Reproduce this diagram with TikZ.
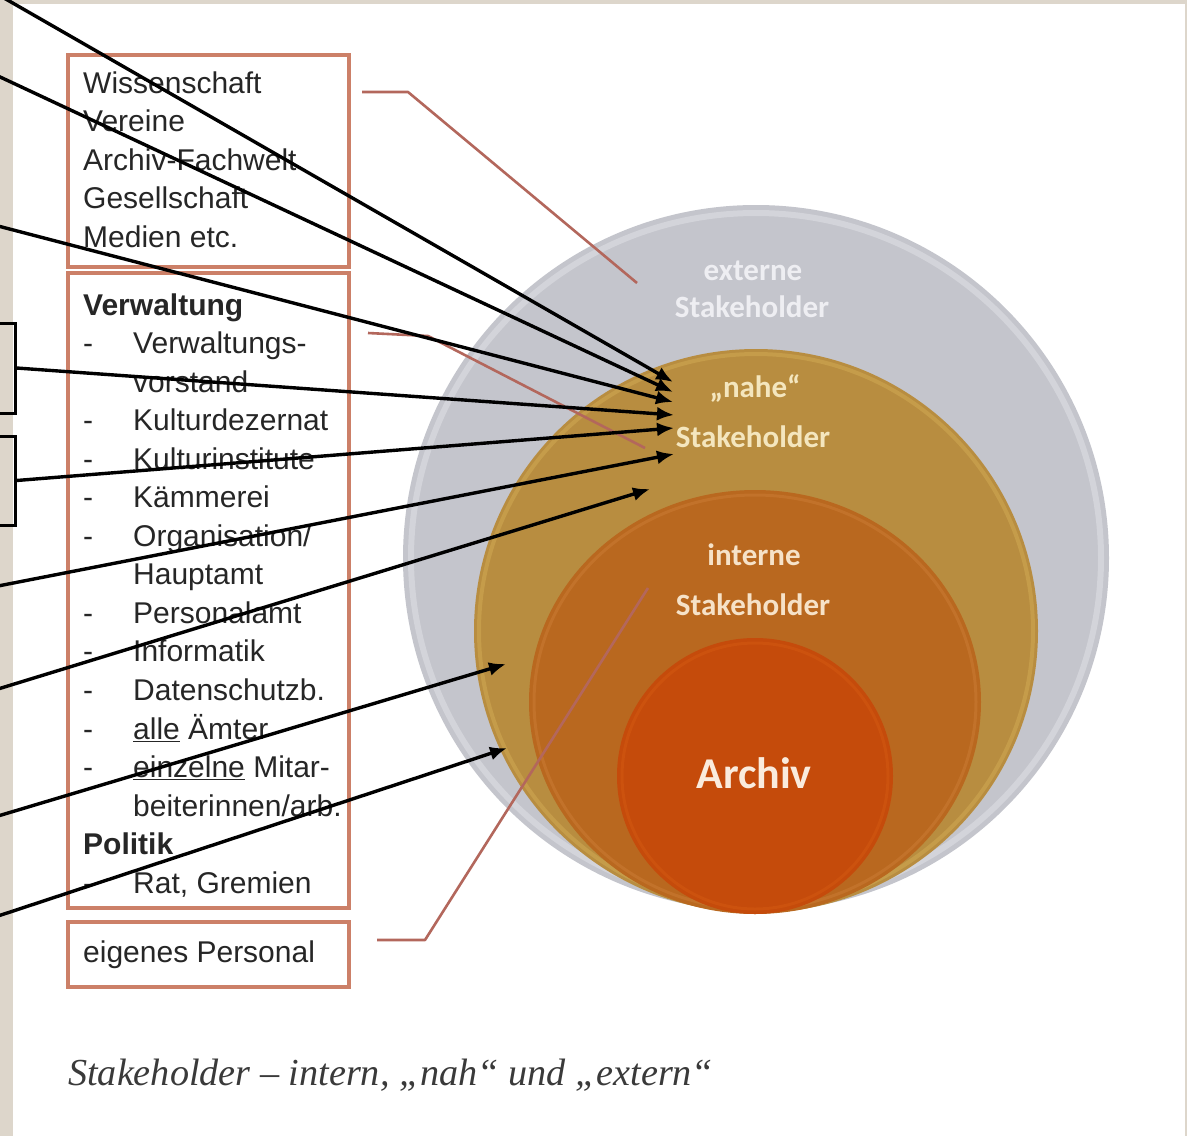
\documentclass[tikz,border=0pt]{standalone}
\usepackage{fontspec}
\usepackage{graphicx}
\setmainfont{Liberation Sans}
\newfontfamily\circfont{Carlito}
\newfontfamily\capfont{Liberation Serif}
\usetikzlibrary{arrows.meta}
\definecolor{margin}{HTML}{DDD6CB}
\definecolor{extgray}{HTML}{C4C5CC}
\definecolor{extrim}{HTML}{D3D4DA}
\definecolor{nahegold}{HTML}{B88D40}
\definecolor{naherim}{HTML}{C59C4A}
\definecolor{intorange}{HTML}{B9681F}
\definecolor{introm}{HTML}{C2722A}
\definecolor{archred}{HTML}{C54B0B}
\definecolor{archrim}{HTML}{CC520E}
\definecolor{boxline}{HTML}{CC8068}
\definecolor{conline}{HTML}{B3675C}
\definecolor{boxtext}{HTML}{262626}
\definecolor{exttext}{HTML}{EEEEF2}
\definecolor{nahetext}{HTML}{F4E6BE}
\definecolor{inttext}{HTML}{F6E2C8}
\definecolor{archtext}{HTML}{FAEBDD}
\definecolor{captext}{HTML}{3A3A3A}
\begin{document}
\begin{tikzpicture}[x=1pt,y=-1pt,
  obox/.style={draw=boxline, line width=3.4, inner sep=0, fill=white},
  kbox/.style={draw=black, line width=3, inner sep=0, minimum width=30},
  txt/.style={inner sep=0, anchor=base west, text=boxtext, font=\fontsize{30}{38.55}\selectfont},
  ctxt/.style={inner sep=0, anchor=base, font=\circfont\bfseries\fontsize{31}{36}\selectfont},
  conn/.style={draw=conline, line width=2.6, line join=round},
  arr/.style={draw=black, line width=3.4, -{Latex[length=17pt,width=14pt]}}]
\useasboundingbox (0,0) rectangle (1187,1136);
% background
\fill[margin] (0,0) rectangle (1187,1136);
\fill[white] (13,4) rectangle (1185,1136);

% left black boxes
\node[kbox, minimum height=90] (k1) at (0,368) {};
\node[kbox, minimum height=89] (k2) at (0,480.5) {};

% stakeholder boxes
\node[obox, minimum width=281, minimum height=212] (box1) at (208.5,161) {};
\node[obox, minimum width=281, minimum height=635] (box2) at (208.5,590.5) {};
\node[obox, minimum width=281, minimum height=65] (box3) at (208.5,954.5) {};

\node[txt] (t1) at (83,93) {\begin{tabular}[t]{@{}l@{}}Wissenschaft\\Vereine\\Archiv-Fachwelt\\Gesellschaft\\Medien etc.\end{tabular}};
\node[txt] (t2) at (83,315) {\begin{tabular}[t]{@{}p{50pt}@{}l@{}}
\multicolumn{2}{@{}l@{}}{\bfseries Verwaltung}\\
- & Verwaltungs-\\
 & vorstand\\
- & Kulturdezernat\\
- & Kulturinstitute\\
- & Kämmerei\\
- & Organisation/\\
 & Hauptamt\\
- & Personalamt\\
- & Informatik\\
- & Datenschutzb.\\
- & \underline{alle} Ämter\\
- & \underline{einzelne} Mitar-\\
 & beiterinnen/arb.\\
\multicolumn{2}{@{}l@{}}{\bfseries Politik}\\
- & Rat, Gremien
\end{tabular}};
\node[txt] (t3) at (83,962) {eigenes Personal};

% circles
\fill[extgray] (756,558) circle [radius=353];
\draw[extrim, line width=6] (756,558) circle [radius=345];
\fill[nahegold] (756,631) circle [radius=282];
\draw[naherim, line width=4] (756,631) circle [radius=277];
\fill[intorange] (755,702) ellipse [x radius=226, y radius=212];
\draw[introm, line width=3] (755,702) ellipse [x radius=221, y radius=207];
\fill[archred] (755,776) circle [radius=138];
\draw[archrim, line width=3] (755,776) circle [radius=133];

% connectors from boxes to circles
\coordinate (c1a) at (362,92);
\coordinate (c1b) at (408,92);
\coordinate (c1c) at (637,283);
\coordinate (c2a) at (368,333);
\coordinate (c2b) at (428,336);
\coordinate (c2c) at (645,448);
\coordinate (c3a) at (377,940);
\coordinate (c3b) at (425,940);
\coordinate (c3c) at (648,588);
\draw[conn] (c1a) -- (c1b) -- (c1c);
\draw[conn] (c2a) -- (c2b) -- (c2c);
\draw[conn] (c3a) -- (c3b) -- (c3c);

% circle labels
\node[ctxt, text=exttext] (ext1) at (753,280) {externe};
\node[ctxt, text=exttext] (ext2) at (752,317) {Stakeholder};
\node[ctxt, text=nahetext] (nah1) at (755,397) {„nahe“};
\node[ctxt, text=nahetext] (nah2) at (753,447) {Stakeholder};
\node[ctxt, text=inttext] (int1) at (754,565) {interne};
\node[ctxt, text=inttext] (int2) at (753,615) {Stakeholder};
\node[inner sep=0, anchor=base, text=archtext, font=\circfont\bfseries\fontsize{44}{50}\selectfont] (arch) at (754,788) {Archiv};

% arrows
\coordinate (s1) at (4,-2);
\coordinate (s2) at (-2,76);
\coordinate (s3) at (-2,226);
\coordinate (s6) at (-2,586);
\coordinate (s7) at (-2,689);
\coordinate (s8) at (-2,816);
\coordinate (s9) at (-2,916);
\coordinate (e1) at (673,382);
\coordinate (e2) at (673,392);
\coordinate (e3) at (673,402);
\coordinate (e4) at (674,415);
\coordinate (e5) at (674,428);
\coordinate (e6) at (674,454);
\coordinate (e7) at (650,489);
\coordinate (e8) at (506,664);
\coordinate (e9) at (507,748);
\draw[arr] (s1) -- (e1);
\draw[arr] (s2) -- (e2);
\draw[arr] (s3) -- (e3);
\draw[arr] (k1.east) -- (e4);
\draw[arr] (k2.east) -- (e5);
\draw[arr] (s6) -- (e6);
\draw[arr] (s7) -- (e7);
\draw[arr] (s8) -- (e8);
\draw[arr] (s9) -- (e9);

% caption
\node[inner sep=0, anchor=base west, text=captext] (cap) at (68,1085) {\resizebox{645pt}{!}{\capfont\itshape\fontsize{38}{44}\selectfont Stakeholder – intern, „nah“ und „extern“}};
\end{tikzpicture}
\end{document}
